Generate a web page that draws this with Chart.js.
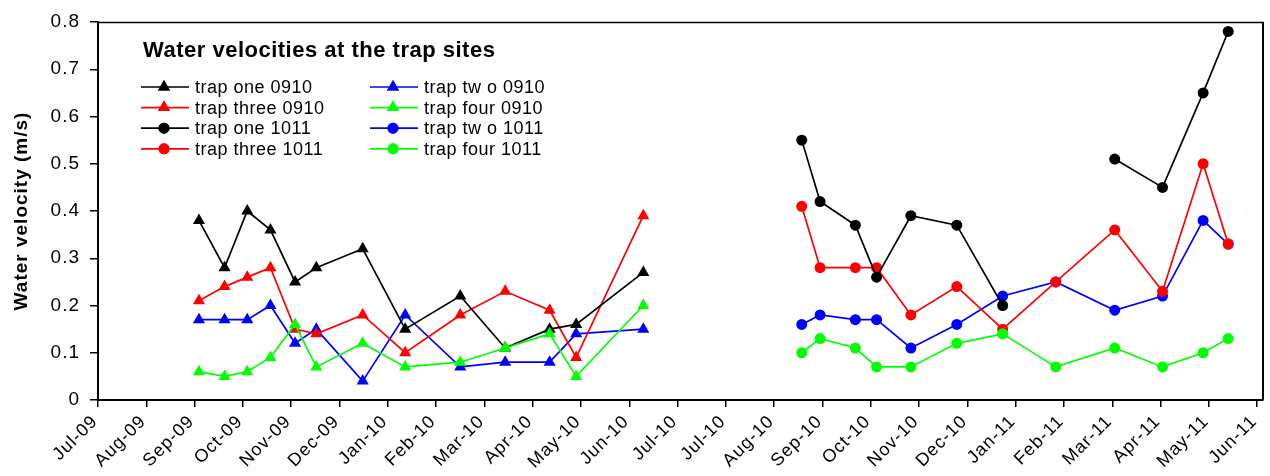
<!DOCTYPE html>
<html><head><meta charset="utf-8">
<script src="https://cdn.jsdelivr.net/npm/chart.js@4.4.1/dist/chart.umd.min.js"></script>
<style>html,body{margin:0;padding:0;background:#fff;} #wrap{width:1270px;height:476px;position:relative;}</style>
</head><body><div id="wrap"><canvas id="c" width="1270" height="476"></canvas></div>
<script>
const chartTitle = 'Water velocities at the trap sites';
const yTitle = 'Water velocity (m/s)';
const tickLabels = ['Jul-09','Aug-09','Sep-09','Oct-09','Nov-09','Dec-09','Jan-10','Feb-10','Mar-10','Apr-10','May-10','Jun-10','Jul-10','Jul-10','Aug-10','Sep-10','Oct-10','Nov-10','Dec-10','Jan-11','Feb-11','Mar-11','Apr-11','May-11','Jun-11'];
const yTicks = [0, 0.1, 0.2, 0.3, 0.4, 0.5, 0.6, 0.7, 0.8];
// sampling dates in axis-tick units (0 = Jul-09 tick)
const dates0910 = [2.09, 2.62, 3.09, 3.57, 4.08, 4.52, 5.48, 6.36, 7.50, 8.43, 9.35, 9.90, 11.29];
const dates1011 = [14.57, 14.95, 15.68, 16.12, 16.83, 17.78, 18.73, 19.83, 21.05, 22.04, 22.88, 23.40];
const seriesNames = ['trap one 0910','trap tw o 0910','trap three 0910','trap four 0910','trap one 1011','trap tw o 1011','trap three 1011','trap four 1011'];
const trapOne0910   = [0.38,0.28,0.40,0.36,0.25,0.28,0.32,0.15,0.22,0.11,0.15,0.16,0.27];
const trapTwo0910   = [0.17,0.17,0.17,0.20,0.12,0.15,0.04,0.18,0.07,0.08,0.08,0.14,0.15];
const trapThree0910 = [0.21,0.24,0.26,0.28,0.15,0.14,0.18,0.10,0.18,0.23,0.19,0.09,0.39];
const trapFour0910  = [0.06,0.05,0.06,0.09,0.16,0.07,0.12,0.07,0.08,0.11,0.14,0.05,0.20];
const trapOne1011   = [0.55,0.42,0.37,0.26,0.39,0.37,0.20,null,0.51,0.45,0.65,0.78];
const trapTwo1011   = [0.16,0.18,0.17,0.17,0.11,0.16,0.22,0.25,0.19,0.22,0.38,0.33];
const trapThree1011 = [0.41,0.28,0.28,0.28,0.18,0.24,0.15,0.25,0.36,0.23,0.50,0.33];
const trapFour1011  = [0.10,0.13,0.11,0.07,0.07,0.12,0.14,0.07,0.11,0.07,0.10,0.13];

const FAMILY = '"Liberation Sans", Arial, Helvetica, sans-serif';
const colors = ['#000000','#0000ff','#ff0000','#00ff00'];
const drawOrder = [2, 4, 3, 1]; // one, two, three, four (lower = on top)

function pts(xs, ys) { return xs.map((x, i) => ({x: x, y: ys[i]})); }
const allValues = [trapOne0910, trapTwo0910, trapThree0910, trapFour0910, trapOne1011, trapTwo1011, trapThree1011, trapFour1011];
const datasets = allValues.map((vals, i) => {
  const tri = i < 4;
  const c = colors[i % 4];
  return {
    label: seriesNames[i],
    data: pts(tri ? dates0910 : dates1011, vals),
    borderColor: c, backgroundColor: c,
    pointBackgroundColor: c, pointBorderColor: c,
    borderWidth: 1.7,
    pointStyle: tri ? 'triangle' : 'circle',
    pointRadius: tri ? 7 : 5.5,
    pointBorderWidth: 0,
    spanGaps: false,
    order: drawOrder[i % 4],
    tension: 0
  };
});

const spacing = {
  id: 'spacing',
  beforeDraw(chart) { chart.ctx.letterSpacing = '1px'; }
};

const overlay = {
  id: 'overlay',
  afterDraw(chart) {
    const ctx = chart.ctx, a = chart.chartArea;
    ctx.save();
    ctx.strokeStyle = '#000';
    ctx.lineWidth = 1.5;
    ctx.beginPath(); ctx.moveTo(a.left, a.top + 0.5); ctx.lineTo(a.right + 1, a.top + 0.5); ctx.stroke();
    ctx.lineWidth = 2;
    ctx.beginPath(); ctx.moveTo(a.right, a.top); ctx.lineTo(a.right, a.bottom); ctx.stroke();
    // title
    ctx.fillStyle = '#000';
    ctx.font = 'bold 22px ' + FAMILY;
    ctx.letterSpacing = '0.5px';
    ctx.textBaseline = 'alphabetic';
    ctx.textAlign = 'left';
    ctx.fillText(chartTitle, 143, 57);
    // legend
    ctx.font = '18px ' + FAMILY;
    ctx.letterSpacing = '0.5px';
    ctx.textBaseline = 'middle';
    const colX = [141, 370], rowY = [87, 107.6, 128.2, 148.8];
    chart.data.datasets.forEach((ds, i) => {
      const x0 = colX[i % 2], y = rowY[Math.floor(i / 2)];
      ctx.strokeStyle = ds.borderColor; ctx.fillStyle = ds.borderColor;
      ctx.lineWidth = 1.7;
      ctx.beginPath(); ctx.moveTo(x0, y); ctx.lineTo(x0 + 48, y); ctx.stroke();
      Chart.helpers.drawPoint(ctx, {pointStyle: ds.pointStyle, radius: ds.pointRadius, rotation: 0, borderWidth: 0}, x0 + 23, y);
      ctx.fill();
      ctx.fillStyle = '#000';
      ctx.fillText(ds.label, x0 + 54, y + 1);
    });
    ctx.restore();
  }
};

new Chart(document.getElementById('c'), {
  type: 'line',
  data: { datasets },
  plugins: [spacing, overlay],
  options: {
    responsive: false, animation: false, devicePixelRatio: 1,
    layout: { padding: { top: 22, right: 6, left: 0, bottom: 0 } },
    plugins: { legend: { display: false }, tooltip: { enabled: false } },
    scales: {
      x: {
        type: 'linear', min: 0, max: 24.12,
        afterBuildTicks: s => { s.ticks = tickLabels.map((_, i) => ({ value: i })); },
        ticks: { autoSkip: false, maxRotation: 45, minRotation: 45, padding: 4, labelOffset: -3, color: '#000',
          font: { size: 18, family: FAMILY }, callback: (v, i) => tickLabels[i] },
        grid: { drawOnChartArea: false, drawTicks: true, tickLength: 7, color: '#000', lineWidth: 1.5 },
        border: { display: true, color: '#000', width: 2 },
        afterFit: s => { s.height = 76; s.paddingLeft = 0; s.paddingRight = 0; }
      },
      y: {
        min: 0, max: 0.8,
        afterBuildTicks: s => { s.ticks = yTicks.map(v => ({ value: v })); },
        ticks: { padding: 10, color: '#000', font: { size: 19, family: FAMILY },
          callback: v => v === 0 ? '0' : v.toFixed(1) },
        grid: { drawOnChartArea: false, drawTicks: true, tickLength: 8, color: '#000', lineWidth: 1.5 },
        border: { display: true, color: '#000', width: 2 },
        title: { display: true, text: yTitle, color: '#000', font: { size: 19, weight: 'bold', family: FAMILY }, padding: { top: 10, bottom: 0 } },
        afterFit: s => { s.width = 98; }
      }
    }
  }
});
</script>
</body></html>
